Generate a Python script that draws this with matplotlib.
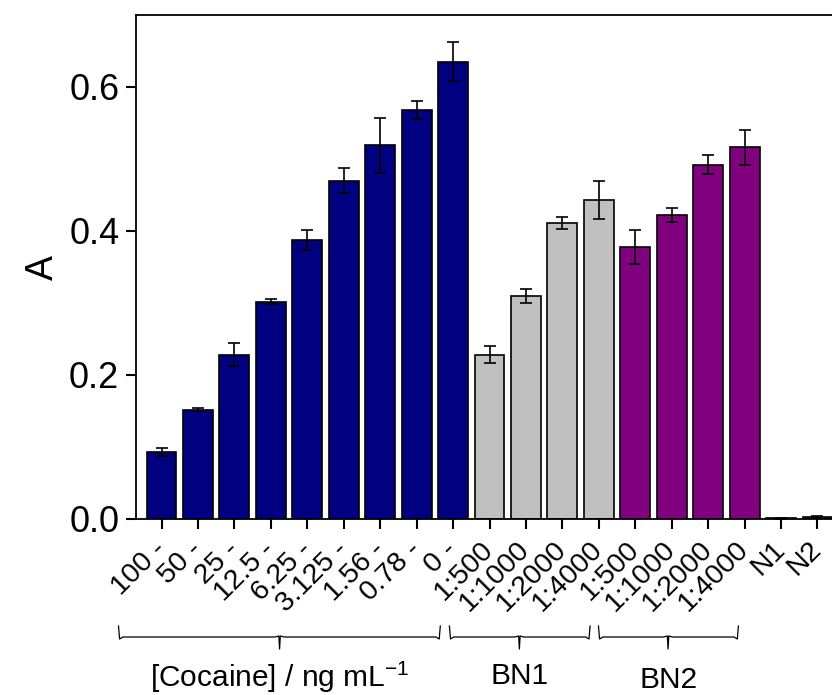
import matplotlib
matplotlib.use("Agg")
import matplotlib.pyplot as plt
import numpy as np

plt.rcParams['font.family'] = ['Liberation Sans', 'DejaVu Sans']
plt.rcParams['mathtext.fontset'] = 'custom'
plt.rcParams['mathtext.rm'] = 'Liberation Sans'

labels = ["100 -", "50 -", "25 -", "12.5 -", "6.25 -", "3.125 -", "1.56 -", "0.78 -", "0 -",
          "1:500", "1:1000", "1:2000", "1:4000",
          "1:500", "1:1000", "1:2000", "1:4000",
          "N1", "N2"]
values = [0.093, 0.152, 0.228, 0.302, 0.387, 0.470, 0.519, 0.568, 0.635,
          0.228, 0.310, 0.411, 0.443,
          0.378, 0.422, 0.492, 0.516,
          0.001, 0.003]
errors = [0.006, 0.002, 0.016, 0.003, 0.014, 0.017, 0.038, 0.012, 0.027,
          0.012, 0.010, 0.008, 0.026,
          0.024, 0.010, 0.013, 0.024,
          0.001, 0.0005]
colors = ["#000080"] * 9 + ["#C0C0C0"] * 4 + ["#800080"] * 4 + ["#808080", "#1F5050"]

groups = ["[Cocaine] / ng mL$^{\\mathrm{-1}}$", "BN1", "BN2"]
group_span = [(-1.18, 7.65, 3.24), (7.90, 11.76, 9.82), (11.99, 15.83, 13.90)]
group_text_y = [677, 676, 680]

fig = plt.figure(figsize=(8.32, 6.95), dpi=100)
ax = fig.add_axes([136/832, 1 - 519/695, (843 - 136)/832, (519 - 15)/695])

x = np.arange(len(values))
ax.bar(x, values, width=0.82, color=colors, edgecolor="black", linewidth=1.2, zorder=2)
ax.errorbar(x, values, yerr=errors, fmt="none", ecolor="black", elinewidth=1.2,
            capsize=4, capthick=1.2, zorder=3)

ax.set_xlim(-0.7, 18.7)
ax.set_ylim(0, 0.7)
ax.set_yticks([0.0, 0.2, 0.4, 0.6])
ax.set_yticklabels(["0.0", "0.2", "0.4", "0.6"])
ax.set_xticks(x)
ax.set_xticklabels(labels, rotation=45, ha="right", va="center", rotation_mode="anchor")
ax.tick_params(axis="y", direction="out", length=7, width=1.5, labelsize=26, pad=5)
ax.tick_params(axis="x", direction="out", length=7, width=1.5, labelsize=20.5, pad=12)
for s in ["left", "bottom", "top"]:
    ax.spines[s].set_linewidth(1.3)
ax.spines["right"].set_visible(False)
ax.set_ylabel("A", fontsize=27, labelpad=6)

trans = ax.get_xaxis_transform()
y_top = -(626 - 519) / 504
y_bot = -(637 - 519) / 504
y_cusp = -(649 - 519) / 504
for (x0, x1, xc), g, ty in zip(group_span, groups, group_text_y):
    d = 0.12
    xs = [x0, x0 + 0.03, x0 + d, xc - d, xc - 0.02, xc, xc + 0.02, xc + d, x1 - d, x1 - 0.03, x1]
    ys = [y_top, y_bot - 0.004, y_bot, y_bot, y_bot + 0.002, y_cusp, y_bot + 0.002, y_bot, y_bot, y_bot - 0.004, y_top]
    ax.plot(xs, ys, color="black", linewidth=0.9, transform=trans, clip_on=False)
    ax.text(xc, -(ty - 519) / 504, g, transform=trans, ha="center", va="center", fontsize=21.5)

fig.savefig("out.png", dpi=100)
